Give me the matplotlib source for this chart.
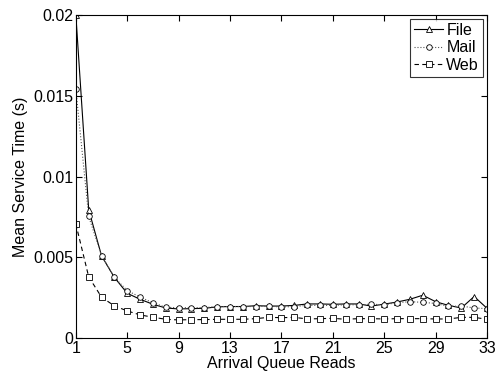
import numpy as np
import matplotlib
matplotlib.use('Agg')
import matplotlib.pyplot as plt

plt.rcParams['font.family'] = ['Liberation Sans', 'DejaVu Sans']

# Arrival queue reads 1..33
reads = list(range(1, 34))

file_t = [0.0200, 0.00795, 0.00509, 0.00375, 0.00277, 0.00240, 0.00209, 0.00186, 0.00180, 0.00182,
          0.00184, 0.00193, 0.00195, 0.00195, 0.00200, 0.00198, 0.00198, 0.00202, 0.00211, 0.00211,
          0.00209, 0.00211, 0.00211, 0.00198, 0.00210, 0.00223, 0.00240, 0.00265, 0.00225, 0.00202,
          0.00186, 0.00257, 0.00184]
mail_t = [0.0154, 0.00753, 0.00510, 0.00375, 0.00294, 0.00253, 0.00219, 0.00190, 0.00188, 0.00188,
          0.00188, 0.00195, 0.00195, 0.00195, 0.00195, 0.00198, 0.00192, 0.00195, 0.00202, 0.00202,
          0.00202, 0.00206, 0.00206, 0.00209, 0.00206, 0.00219, 0.00225, 0.00221, 0.00214, 0.00196,
          0.00198, 0.00186, 0.00182]
web_t = [0.00706, 0.00379, 0.00253, 0.00199, 0.00168, 0.00143, 0.00129, 0.00116, 0.00112, 0.00114,
         0.00114, 0.00116, 0.00116, 0.00116, 0.00120, 0.00128, 0.00126, 0.00128, 0.00118, 0.00120,
         0.00122, 0.00116, 0.00120, 0.00120, 0.00118, 0.00120, 0.00120, 0.00120, 0.00118, 0.00118,
         0.00128, 0.00128, 0.00116]

fig = plt.figure(figsize=(4.99, 3.76), dpi=100)
ax = fig.add_axes([0.152, 0.101, 0.824, 0.859])

mk = dict(markersize=4, markerfacecolor='white', markeredgewidth=0.6)
ax.plot(reads, file_t, '-', color='black', marker='^', linewidth=0.8, label='File', **mk)
ax.plot(reads, mail_t, ':', color='#555555', marker='o', linewidth=0.8, label='Mail',
        markeredgecolor='black', **mk)
ax.plot(reads, web_t, '--', color='black', marker='s', linewidth=0.8, label='Web',
        dashes=(4, 3), **mk)

ax.set_xlim(1, 33)
ax.set_ylim(0, 0.02)
ax.set_xticks(range(1, 34, 4))
ax.set_yticks([0, 0.005, 0.01, 0.015, 0.02])
ax.set_yticklabels(['0', '0.005', '0.01', '0.015', '0.02'])
ax.tick_params(direction='in', top=True, right=True, labelsize=11.5, length=4)
ax.tick_params(axis='x', pad=2)
ax.tick_params(axis='y', pad=2)
ax.set_xlabel('Arrival Queue Reads', fontsize=11.5, labelpad=0)
ax.set_ylabel('Mean Service Time (s)', fontsize=11.5, labelpad=4)

leg = ax.legend(loc='upper right', fontsize=11.5, frameon=True, fancybox=False,
                handlelength=1.8, handletextpad=0.2, borderpad=0.25, labelspacing=0.15,
                borderaxespad=0.25)
leg.get_frame().set_edgecolor('black')
leg.get_frame().set_linewidth(0.8)

fig.savefig('out.png', dpi=100)
